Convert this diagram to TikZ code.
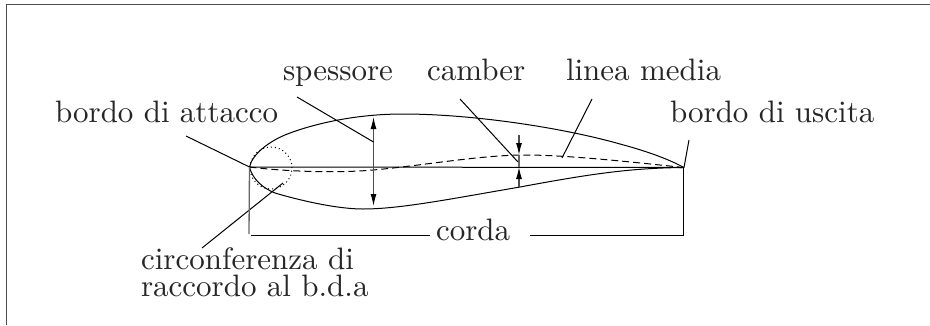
\documentclass[tikz,border=0pt]{standalone}
\usetikzlibrary{arrows.meta}
\tikzset{
  x=1pt,y=-1pt,
  lbl/.style={anchor=base west,inner sep=0pt,outer sep=0pt,text=black!85,font=\fontsize{10}{10}\selectfont,scale=3.1,transform shape},
  thin line/.style={line width=1pt,black},
  dim/.style={line width=1.1pt,black!70,{Latex[length=12pt,width=6pt,black]}-{Latex[length=12pt,width=6pt,black]}},
  tipin/.style={line width=1.1pt,black!70,-{Latex[length=12pt,width=6pt,black]}}
}
\begin{document}
\begin{tikzpicture}
\useasboundingbox (0,0) rectangle (930,325);
\coordinate (fa) at (6,325); \coordinate (fb) at (6,4); \coordinate (fc) at (930,4);
\draw[line width=1pt,black!70] (fa) -- (fb) -- (fc);
\coordinate (le) at (249.5,167); \coordinate (te) at (684,167.5);
% labels
\node[lbl] (spessore) at (283,80) {spessore};
\node[lbl] (camber) at (427,80) {camber};
\node[lbl] (linea) at (566,80) {linea media};
\node[lbl] (attacco) at (55,122) {bordo di attacco};
\node[lbl] (uscita) at (670,122) {bordo di uscita};
\node[lbl] (corda) at (436,240) {corda};
\node[lbl] (circ) at (141,269) {circonferenza di};
\node[lbl] (racc) at (141,296) {raccordo al b.d.a};
% airfoil
\draw[thin line] (le) .. controls (252,155) and (268,141) .. (290,133)
  .. controls (320,122) and (360,114) .. (403,114)
  .. controls (470,114) and (560,127) .. (620,144)
  .. controls (650,152) and (670,160) .. (te);
\draw[thin line] (le) .. controls (252,178) and (262,188) .. (275,193)
  .. controls (295,199) and (335,209) .. (363,209)
  .. controls (400,209) and (450,199) .. (520,187)
  .. controls (590,174) and (630,168) .. (te);
\draw[thin line] (le) -- (te);
\draw[thin line,dash pattern=on 7pt off 4pt] (le) .. controls (290,172) and (340,173) .. (373,170)
  .. controls (420,166) and (480,155) .. (525,155)
  .. controls (570,155) and (640,163) .. (te);
\node[circle,draw,line width=1pt,dash pattern=on 1pt off 3pt,minimum size=42pt,inner sep=0pt] (cerchio) at (271,168) {};
% thickness and camber
\coordinate (s1) at (373.5,117); \coordinate (s2) at (373.5,206);
\draw[dim] (s1) -- (s2);
\coordinate (c1) at (519,135); \coordinate (c2) at (519,155);
\coordinate (c3) at (519,187); \coordinate (c4) at (519,167);
\draw[tipin] (c1) -- (c2);
\draw[tipin] (c3) -- (c4);
\draw[line width=1.1pt,black!60] (c2) -- (c4);
% leaders
\coordinate (ls1) at (297,97); \coordinate (ls2) at (373.5,142);
\draw[thin line] (ls1) -- (ls2);
\coordinate (lc1) at (460,99); \coordinate (lc2) at (518,162);
\draw[thin line] (lc1) -- (lc2);
\coordinate (ll1) at (592,99); \coordinate (ll2) at (562,158);
\draw[thin line] (ll1) -- (ll2);
\coordinate (la1) at (186,136);
\draw[thin line] (la1) -- (le);
\coordinate (lu1) at (689,140);
\draw[thin line] (lu1) -- (te);
\coordinate (lr1) at (202,248); \coordinate (lr2) at (283,183);
\draw[thin line] (lr1) -- (lr2);
% chord
\coordinate (k1) at (249,234); \coordinate (k2) at (251,235); \coordinate (k3) at (430,235);
\coordinate (k4) at (530,235); \coordinate (k5) at (683,235); \coordinate (k6) at (683,168);
\draw[line width=1.3pt,black!60] (le) -- (k1);
\draw[thin line] (k2) -- (k3);
\draw[thin line] (k4) -- (k5) -- (k6);
\end{tikzpicture}
\end{document}
